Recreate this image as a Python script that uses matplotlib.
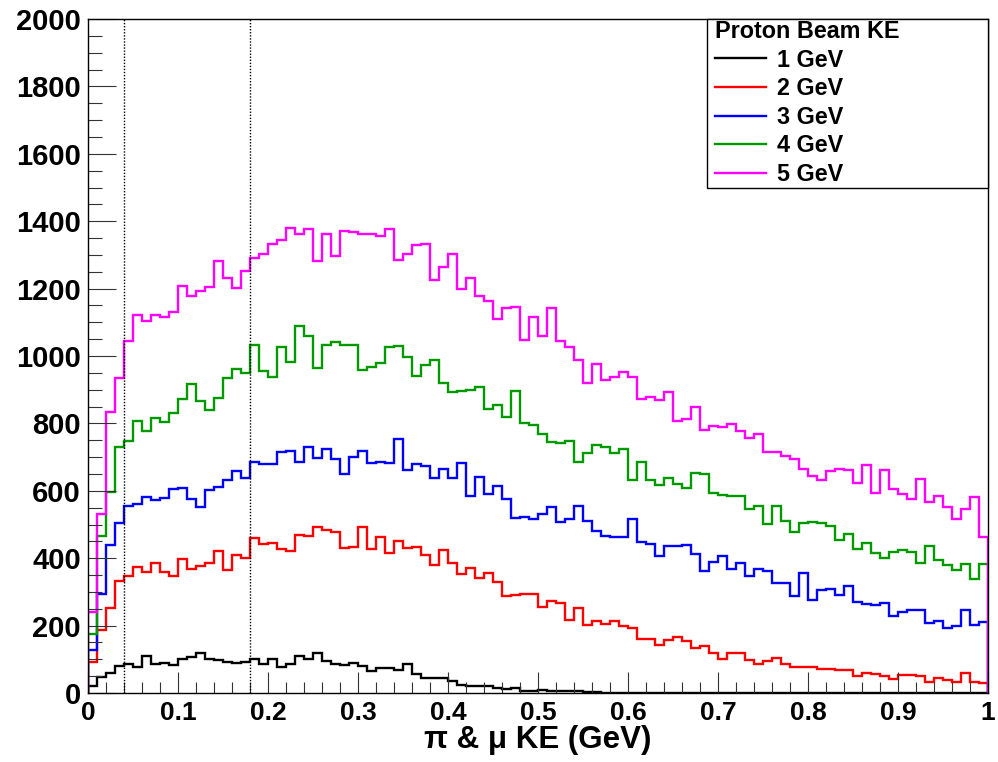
import numpy as np
import matplotlib
matplotlib.use("Agg")
import matplotlib.pyplot as plt
from matplotlib.lines import Line2D
from matplotlib.patches import Rectangle
from matplotlib.ticker import MultipleLocator

plt.rcParams['font.family'] = ['Liberation Sans', 'DejaVu Sans']

# ---- data (100 bins, 0..1 GeV) ----
bin_edges = np.linspace(0.0, 1.0, 101)

ke_1gev = [22, 47, 59, 80, 87, 77, 109, 87, 90, 82, 100, 106, 119, 102, 97, 92, 89, 92, 102, 87,
           102, 77, 87, 111, 102, 119, 94, 87, 84, 89, 80, 65, 74, 74, 69, 87, 57, 44, 44, 45,
           37, 25, 22, 22, 21, 15, 12, 15, 7, 6, 8, 6, 6, 5, 5, 3, 2, 1, 1, 0,
           1, 0, 0, 0, 0, 0, 0, 0, 0, 0, 0, 0, 0, 0, 0, 0, 0, 0, 0, 0,
           0, 0, 0, 0, 0, 0, 0, 0, 0, 0, 0, 0, 0, 0, 0, 0, 0, 0, 0, 0]

ke_2gev = [92, 186, 253, 331, 346, 374, 359, 387, 359, 347, 399, 367, 377, 387, 421, 366, 409, 402, 460, 441,
           446, 428, 421, 468, 466, 493, 483, 478, 430, 433, 493, 428, 463, 414, 451, 430, 433, 409, 381, 423,
           387, 354, 372, 341, 357, 329, 287, 292, 295, 295, 255, 272, 268, 218, 253, 201, 215, 206, 213, 198,
           193, 159, 161, 143, 158, 166, 154, 134, 138, 119, 100, 119, 119, 97, 87, 95, 105, 87, 77, 77,
           77, 72, 72, 69, 69, 49, 59, 55, 49, 42, 54, 52, 49, 34, 45, 39, 34, 59, 34, 30]

ke_3gev = [129, 295, 438, 503, 554, 562, 582, 572, 580, 604, 609, 577, 552, 602, 612, 632, 658, 638, 684, 681,
           681, 714, 718, 684, 731, 696, 723, 693, 649, 701, 719, 683, 686, 683, 755, 661, 679, 674, 637, 666,
           637, 683, 585, 640, 590, 614, 577, 520, 523, 516, 530, 552, 506, 516, 554, 511, 481, 466, 463, 463,
           515, 448, 441, 407, 436, 436, 440, 412, 362, 389, 407, 369, 387, 347, 369, 362, 325, 325, 288, 357,
           277, 305, 308, 292, 317, 270, 265, 262, 267, 228, 240, 247, 247, 209, 213, 194, 199, 247, 203, 210]

ke_4gev = [176, 466, 597, 730, 747, 808, 777, 817, 803, 832, 872, 917, 866, 840, 874, 934, 961, 949, 1033, 956,
           937, 1028, 983, 1089, 1060, 963, 1033, 1043, 1033, 1033, 958, 966, 978, 1026, 1030, 998, 941, 973, 988, 919,
           892, 896, 899, 907, 843, 854, 818, 896, 800, 795, 770, 744, 741, 748, 686, 711, 736, 731, 713, 723,
           632, 686, 632, 617, 637, 620, 607, 653, 649, 594, 589, 585, 585, 547, 554, 501, 554, 511, 478, 503,
           507, 503, 495, 455, 473, 426, 446, 414, 401, 417, 424, 417, 387, 436, 396, 379, 366, 384, 339, 382]

ke_5gev = [240, 530, 834, 935, 1045, 1122, 1104, 1122, 1117, 1132, 1208, 1178, 1194, 1204, 1283, 1231, 1201, 1251, 1290, 1303,
           1333, 1343, 1380, 1362, 1377, 1283, 1362, 1298, 1372, 1368, 1362, 1362, 1355, 1377, 1285, 1302, 1330, 1333, 1226, 1264,
           1302, 1199, 1231, 1178, 1164, 1110, 1142, 1145, 1048, 1115, 1060, 1141, 1045, 1028, 988, 919, 976, 929, 937, 953,
           937, 872, 879, 869, 892, 807, 813, 849, 780, 793, 790, 798, 778, 758, 769, 716, 716, 703, 694, 666,
           644, 632, 658, 666, 661, 624, 676, 594, 663, 604, 590, 575, 634, 567, 584, 552, 516, 545, 582, 463]

series_values = [ke_1gev, ke_2gev, ke_3gev, ke_4gev, ke_5gev]
series_labels = ["1 GeV", "2 GeV", "3 GeV", "4 GeV", "5 GeV"]
series_colors = ["#000000", "#ff0000", "#0000ff", "#009a00", "#ff00ff"]
legend_title = "Proton Beam KE"

cut_lines = [0.04, 0.18]

x_ticks = [0.0, 0.1, 0.2, 0.3, 0.4, 0.5, 0.6, 0.7, 0.8, 0.9, 1.0]
x_ticklabels = ["0", "0.1", "0.2", "0.3", "0.4", "0.5", "0.6", "0.7", "0.8", "0.9", "1"]
y_ticks = [0, 200, 400, 600, 800, 1000, 1200, 1400, 1600, 1800, 2000]
y_ticklabels = [str(v) for v in y_ticks]
x_label = "π & μ KE (GeV)"

# ---- figure ----
fig = plt.figure(figsize=(9.98, 7.62), dpi=100)
ax = fig.add_axes([88 / 998, 69 / 762, 900 / 998, 674 / 762])

for vals, col in zip(series_values, series_colors):
    ax.stairs(vals, bin_edges, color=col, linewidth=1.7, baseline=0)

for xc in cut_lines:
    ax.axvline(xc, color="black", linestyle=(0, (1, 1.2)), linewidth=1.0)

ax.set_xlim(0, 1)
ax.set_ylim(0, 2000)
ax.set_xticks(x_ticks)
ax.set_xticklabels(x_ticklabels)
ax.set_yticks(y_ticks)
ax.set_yticklabels(y_ticklabels)
ax.xaxis.set_minor_locator(MultipleLocator(0.02))
ax.yaxis.set_minor_locator(MultipleLocator(50))

ax.tick_params(axis="y", which="major", direction="in", length=20, width=0.8,
               labelsize=21, pad=5, color="#333333")
ax.tick_params(axis="y", which="minor", direction="in", length=10, width=0.8, color="#333333")
ax.tick_params(axis="x", which="major", direction="in", length=15, width=0.8,
               labelsize=19, pad=6, color="#333333")
ax.tick_params(axis="x", which="minor", direction="in", length=8, width=0.8, color="#333333")
for lab in ax.get_xticklabels() + ax.get_yticklabels():
    lab.set_fontweight("bold")

for sp in ax.spines.values():
    sp.set_linewidth(1.0)
    sp.set_color("black")

ax.set_xlabel(x_label, fontsize=22.5, fontweight="bold", labelpad=0)

# legend frame (ROOT TLegend box in the top-right corner)
box_x0 = (707 - 88) / 900
box_y0 = (693 - 187.5) / 674
ax.add_patch(Rectangle((box_x0, box_y0), 1 - box_x0, 1 - box_y0, transform=ax.transAxes,
                       facecolor="white", edgecolor="black", linewidth=1.0, zorder=4,
                       clip_on=False))

handles = [Line2D([], [], color=c, linewidth=1.7) for c in series_colors]
leg = ax.legend(handles, series_labels, title=legend_title,
                loc="upper left", bbox_to_anchor=((715 - 88) / 900, (693 - 20) / 674),
                borderaxespad=0, frameon=False, alignment="left",
                prop={"weight": "bold", "size": 16.8},
                title_fontproperties={"weight": "bold", "size": 16.8},
                handlelength=2.2, handletextpad=0.45, labelspacing=0.24,
                borderpad=0.0)
leg.set_zorder(5)

fig.savefig("out.png", dpi=100)
